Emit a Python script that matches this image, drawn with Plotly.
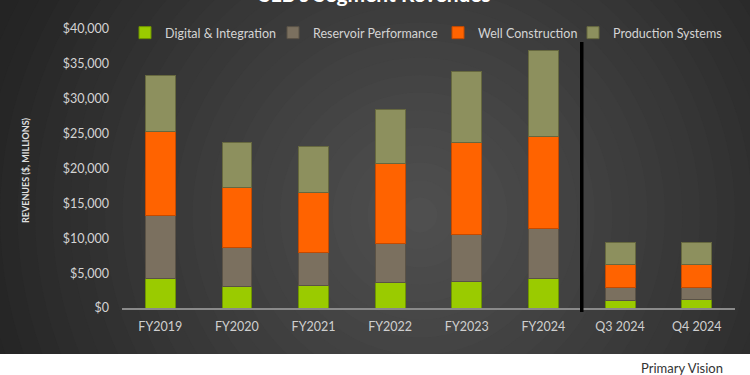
import plotly.graph_objects as go

categories = ["FY2019", "FY2020", "FY2021", "FY2022", "FY2023", "FY2024", "Q3 2024", "Q4 2024"]
digital = [4170, 3070, 3180, 3650, 3850, 4250, 1050, 1150]
reservoir = [9130, 5600, 4720, 5630, 6650, 7100, 1900, 1820]
well = [11950, 8550, 8600, 11420, 13300, 13300, 3220, 3200]
production = [8150, 6580, 6700, 7800, 10100, 12200, 3200, 3200]

series = [
    ("Digital & Integration", digital, "#9acb00", "#6f9400"),
    ("Reservoir Performance", reservoir, "#7b705f", "#5a5246"),
    ("Well Construction", well, "#ff6300", "#c44a00"),
    ("Production Systems", production, "#8d905e", "#66683f"),
]

W, H = 750, 375
PL, PR, PT, PB = 122, 735, 29, 308  # plot area in pixels
legend_text_x = [165, 313, 478, 613]


def px(x):
    return x / W


def py(y):
    return (H - y) / H


font_family = "Lato, 'Open Sans', sans-serif"

fig = go.Figure()
legend_layouts = {}
for i, (name, vals, col, edge) in enumerate(series):
    lname = "legend" if i == 0 else "legend%d" % (i + 1)
    fig.add_trace(go.Bar(
        name=name, x=categories, y=vals, legend=lname,
        marker=dict(color=col, line=dict(color=edge, width=1)),
    ))
    legend_layouts[lname] = dict(
        orientation="h", x=px(legend_text_x[i] - 40), xanchor="left",
        y=py(33), yanchor="middle",
        font=dict(size=12.5, color="#d4d4d4", family=font_family),
        bgcolor="rgba(0,0,0,0)", itemwidth=30,
    )

shapes = []
# radial background gradient (concentric bands)
cx, cy = 420, 215
light, dark = (0x50, 0x50, 0x50), (0x24, 0x24, 0x24)
N = 40
Rmax = 700
for i in range(N):
    r = Rmax * (1 - i / N)
    t = min(1.0, (r / 460) ** 1.1)
    c = tuple(int(round(light[k] + (dark[k] - light[k]) * t)) for k in range(3))
    shapes.append(dict(
        type="circle", xref="paper", yref="paper", layer="below",
        x0=px(cx - r), x1=px(cx + r), y0=py(cy + r), y1=py(cy - r),
        fillcolor="rgb(%d,%d,%d)" % c, line=dict(width=0),
    ))
# white footer band
shapes.append(dict(
    type="rect", xref="paper", yref="paper", layer="below",
    x0=px(-50), x1=px(W + 50), y0=py(H + 50), y1=py(354),
    fillcolor="white", line=dict(width=0),
))
# separator line between annual and quarterly
shapes.append(dict(
    type="line", xref="x", yref="paper", x0=5.5, x1=5.5,
    y0=py(312), y1=py(42), line=dict(color="black", width=3.5),
))

fig.update_layout(
    width=W, height=H,
    margin=dict(l=0, r=0, t=0, b=0, autoexpand=False),
    barmode="stack", bargap=0.61,
    paper_bgcolor="#262626", plot_bgcolor="rgba(0,0,0,0)",
    font=dict(family=font_family, color="#d4d4d4", size=12),
    shapes=shapes,
    showlegend=True,
    xaxis=dict(
        domain=[px(PL), px(PR)],
        showline=True, linecolor="#8a8a8a", linewidth=1.5, showgrid=False,
        ticks="", tickfont=dict(size=12.5, color="#cfcfcf"), ticklabelstandoff=6,
    ),
    yaxis=dict(
        domain=[py(PB), py(PT)],
        range=[0, 40000], dtick=5000, tickprefix="$", tickformat=",",
        showgrid=False, zeroline=False, showline=False, ticks="",
        tickfont=dict(size=12.5, color="#d4d4d4"), ticklabelstandoff=12,
    ),
    annotations=[
        dict(text="<b>SLB's Segment Revenues</b>", xref="paper", yref="paper",
             x=px(375), y=py(8), xanchor="center", yanchor="bottom", showarrow=False,
             font=dict(size=21, color="white", family=font_family)),
        dict(text="<b>REVENUES ($, MILLIONS)</b>", xref="paper", yref="paper",
             x=px(25), y=py(170), xanchor="center", yanchor="middle", textangle=-90,
             showarrow=False, font=dict(size=9, color="#e0e0e0", family=font_family)),
        dict(text="Primary Vision", xref="paper", yref="paper",
             x=px(682), y=py(368), xanchor="center", yanchor="middle", showarrow=False,
             font=dict(size=13, color="#333333", family=font_family)),
    ],
    **legend_layouts,
)

fig.write_html("out.html")
